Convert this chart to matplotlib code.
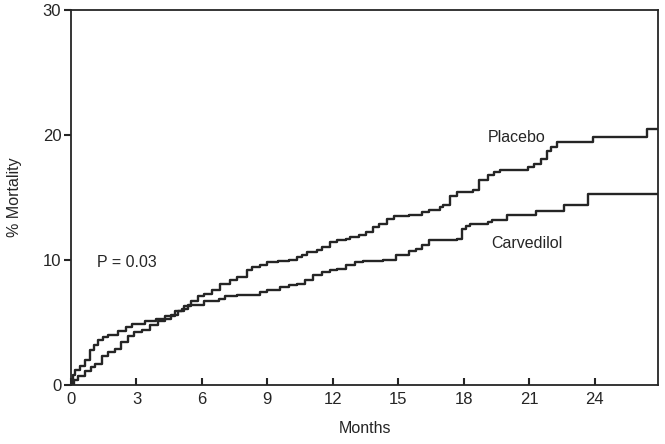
import matplotlib
matplotlib.use("Agg")
import matplotlib.pyplot as plt

plt.rcParams['font.family'] = ['Liberation Sans Narrow', 'Liberation Sans', 'DejaVu Sans']

# Kaplan-Meier style curves (months, % mortality)
placebo_m = [0, 0.15, 0.33, 0.64, 0.9, 1.1, 1.4, 1.7, 2.0, 2.3, 2.6, 2.9, 3.24, 3.6, 4.0, 4.3,
             4.6, 4.9, 5.2, 5.5, 5.8, 6.1, 6.45, 6.83, 7.3, 7.6, 8.05, 8.3, 8.66, 9.0, 9.5, 10.0,
             10.34, 10.6, 10.8, 11.25, 11.5, 11.86, 12.2, 12.6, 12.8, 13.2, 13.5, 13.85, 14.1,
             14.46, 14.8, 15.5, 16.1, 16.4, 16.9, 17.05, 17.36, 17.7, 18.4, 18.7, 19.1, 19.4,
             19.65, 20.95, 21.2, 21.56, 21.8, 22.0, 22.25, 23.9, 26.4, 26.9]
placebo_p = [0, 0.4, 0.7, 1.1, 1.4, 1.7, 2.3, 2.6, 2.9, 3.4, 3.9, 4.2, 4.4, 4.8, 5.1, 5.3,
             5.6, 5.9, 6.3, 6.7, 7.1, 7.3, 7.6, 8.1, 8.4, 8.6, 9.2, 9.4, 9.6, 9.8, 9.9, 10.0,
             10.2, 10.4, 10.6, 10.8, 11.0, 11.4, 11.6, 11.7, 11.8, 12.0, 12.2, 12.6, 12.9,
             13.3, 13.5, 13.6, 13.8, 14.0, 14.2, 14.4, 15.1, 15.4, 15.6, 16.4, 16.8, 17.0,
             17.2, 17.4, 17.7, 18.1, 18.7, 19.0, 19.4, 19.8, 20.5, 20.5]

carv_m = [0, 0.1, 0.18, 0.41, 0.64, 0.87, 1.05, 1.25, 1.45, 1.7, 2.17, 2.5, 2.78, 3.39, 3.9,
          4.3, 4.76, 5.1, 5.37, 6.1, 6.8, 7.05, 7.6, 8.66, 9.0, 9.57, 10.0, 10.34, 10.7, 11.1,
          11.5, 11.86, 12.2, 12.6, 13.0, 13.4, 14.3, 14.9, 15.5, 15.8, 16.1, 16.4, 17.7, 17.9,
          18.1, 18.3, 19.1, 19.3, 19.96, 21.3, 22.6, 23.7, 26.9]
carv_p = [0, 0.8, 1.2, 1.5, 2.0, 2.8, 3.2, 3.6, 3.8, 4.0, 4.3, 4.6, 4.9, 5.1, 5.3,
          5.5, 5.9, 6.1, 6.4, 6.7, 6.9, 7.1, 7.2, 7.4, 7.6, 7.8, 8.0, 8.1, 8.4, 8.8,
          9.0, 9.2, 9.3, 9.6, 9.8, 9.9, 10.0, 10.4, 10.7, 10.9, 11.2, 11.6, 11.7, 12.5,
          12.7, 12.9, 13.0, 13.2, 13.6, 13.9, 14.4, 15.3, 15.3]

x_ticks = [0, 3, 6, 9, 12, 15, 18, 21, 24]
y_ticks = [0, 10, 20, 30]

fig = plt.figure(figsize=(6.65, 4.44), dpi=100)
ax = fig.add_axes([0.1068, 0.1329, 0.8827, 0.8446])

col = '#252525'
ax.plot(placebo_m, placebo_p, drawstyle='steps-post', color=col, lw=1.7)
ax.plot(carv_m, carv_p, drawstyle='steps-post', color=col, lw=1.7)

ax.set_xlim(0, 26.9)
ax.set_ylim(0, 30)
ax.set_xticks(x_ticks)
ax.set_yticks(y_ticks)
ax.tick_params(axis='x', direction='in', length=5, width=1.5, pad=5, labelsize=12, colors=col)
ax.tick_params(axis='y', direction='out', length=5, width=1.5, pad=2, labelsize=12, colors=col)
for s in ax.spines.values():
    s.set_linewidth(1.3)
    s.set_color(col)

ax.set_xlabel('Months', fontsize=11.5, color=col, labelpad=10)
ax.set_ylabel('% Mortality', fontsize=11.5, color=col, labelpad=15)

ax.text(20.4, 19.8, 'Placebo', fontsize=11.5, color=col, ha='center', va='center')
ax.text(20.9, 11.3, 'Carvedilol', fontsize=11.5, color=col, ha='center', va='center')
ax.text(1.2, 9.8, 'P = 0.03', fontsize=11.5, color=col, ha='left', va='center')

fig.savefig('out.png', dpi=100)
